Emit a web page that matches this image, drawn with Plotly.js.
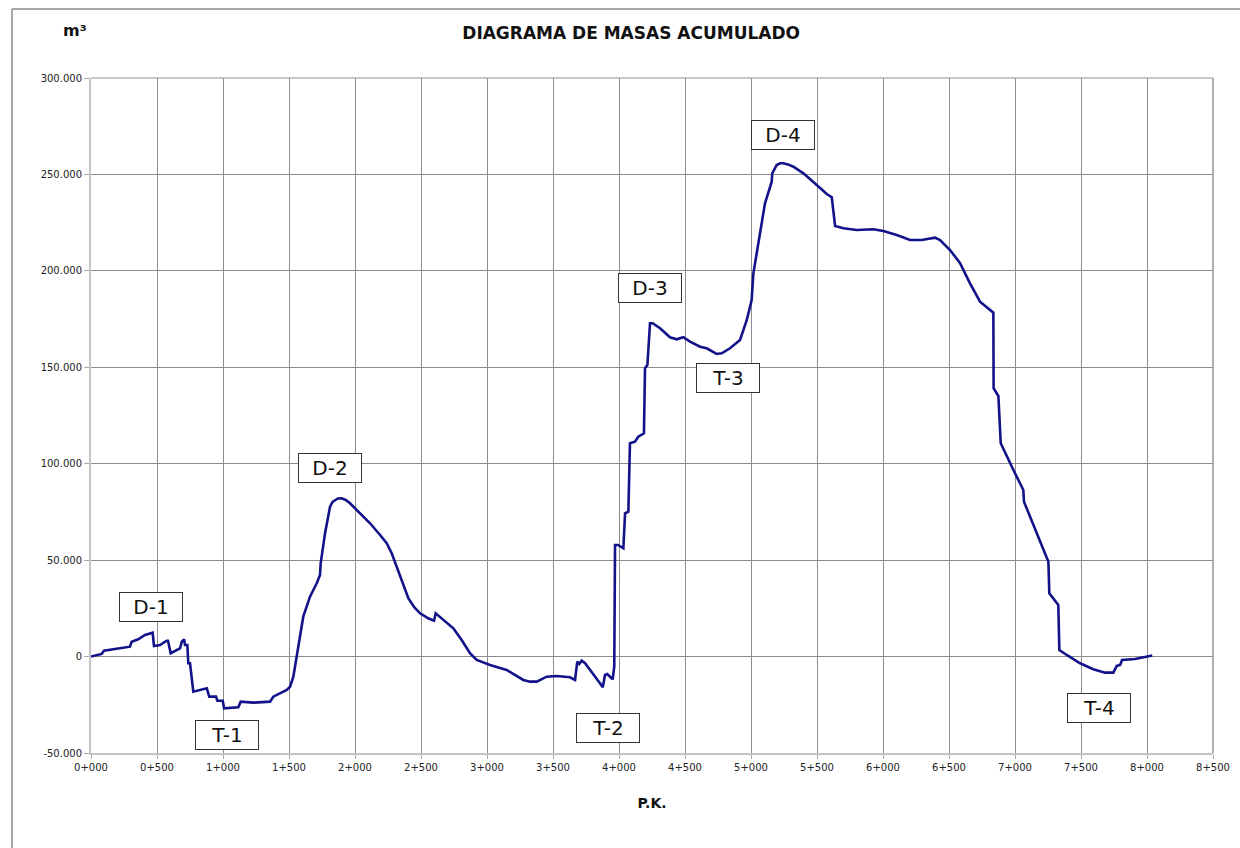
<!DOCTYPE html>
<html>
<head>
<meta charset="utf-8">
<script src="https://cdn.plot.ly/plotly-3.0.1.min.js"></script>
<style>
html,body{margin:0;padding:0;background:#fff;}
#chart{width:1240px;height:848px;}
</style>
</head>
<body>
<div id="chart"></div>
<script>
// Station (m) along the alignment
var stations = [0,81,98,295,308,358,409,467,477,523,573,583,604,649,674,688,705,712,730,737,750,775,877,896,947,957,998,1008,1116,1134,1230,1356,1381,1483,1508,1533,1559,1608,1659,1710,1735,1740,1773,1811,1830,1849,1870,1899,1930,1962,2038,2114,2190,2240,2278,2341,2404,2450,2493,2555,2599,2611,2669,2745,2808,2871,2922,3023,3149,3275,3326,3377,3452,3528,3629,3667,3684,3699,3717,3743,3856,3877,3894,3911,3952,3964,3970,3993,4033,4046,4071,4083,4121,4146,4189,4197,4215,4235,4255,4311,4386,4437,4487,4538,4614,4664,4740,4778,4841,4917,4968,5005,5018,5055,5106,5157,5161,5195,5220,5245,5280,5321,5397,5498,5574,5612,5637,5700,5801,5927,6003,6104,6205,6293,6394,6432,6508,6584,6659,6735,6836,6838,6874,6892,6924,6988,7063,7068,7253,7260,7328,7336,7392,7493,7593,7682,7745,7771,7796,7811,7909,8023,8040];
// Accumulated volume (m3)
var volumes = [0,1350,3060,5130,7730,8970,11200,12390,5500,6010,8240,8240,1710,3060,4200,7730,8970,6010,6010,-3460,-3460,-18200,-16440,-20790,-20790,-22870,-22870,-26810,-26290,-23380,-23900,-23380,-20790,-17320,-15610,-10420,0,20690,31060,38010,42310,48380,63930,77720,80200,81200,82000,82080,81200,79490,74300,69120,63050,58750,53560,41430,30230,25500,22450,19860,18610,22450,18980,14670,8610,1710,-1760,-4360,-6950,-12130,-13010,-13010,-10420,-10060,-10730,-12130,-2640,-3840,-2130,-3470,-13840,-15920,-9540,-9020,-11770,-5240,57870,57870,56150,74300,75130,110600,111430,114020,115780,149480,151200,172820,172820,170230,165560,164520,165560,163280,160680,159850,156900,157260,159850,164160,174530,184900,198740,214300,235040,246240,250590,254900,255800,255780,255200,254020,250590,244530,239860,238150,223270,222070,221190,221550,220670,218600,216000,216000,217200,216000,210820,203930,193550,184020,178320,139110,135120,110600,106240,96750,86380,80310,49210,32820,26760,3420,830,-3470,-6590,-8350,-8350,-4870,-4360,-1760,-1240,50,600];

// Tick labels
var xTickVals = [0,500,1000,1500,2000,2500,3000,3500,4000,4500,5000,5500,6000,6500,7000,7500,8000,8500];
var xTickText = ["0+000","0+500","1+000","1+500","2+000","2+500","3+000","3+500","4+000","4+500","5+000","5+500","6+000","6+500","7+000","7+500","8+000","8+500"];
var yTickVals = [-50000,0,50000,100000,150000,200000,250000,300000];
var yTickText = ["-50.000","0","50.000","100.000","150.000","200.000","250.000","300.000"];

// Zone labels (cut "D" / fill "T")
var zoneNames = ["D-1","T-1","D-2","T-2","D-3","T-3","D-4","T-4"];
var zoneStations = [455,1030,1811,3917,4235,4826,5242,7636];
var zoneVolumes = [25670,-40650,97800,-37000,191100,144500,270400,-26650];

var annotations = zoneNames.map(function(n,i){
  return {x:zoneStations[i], y:zoneVolumes[i], xref:'x', yref:'y', text:n, showarrow:false,
    font:{family:'DejaVu Sans, Verdana, sans-serif', size:20, color:'#111'},
    bgcolor:'#ffffff', bordercolor:'#333333', borderwidth:1, borderpad:2,
    width:58, height:24, align:'center', valign:'middle'};
});
annotations.push({xref:'paper', yref:'paper', x:-0.0143, y:1.071, text:'<b>m³</b>', showarrow:false,
  font:{family:'DejaVu Sans, Verdana, sans-serif', size:16, color:'#111'}, xanchor:'center', yanchor:'middle'});

var trace = {x:stations, y:volumes, type:'scatter', mode:'lines',
  line:{color:'#12128a', width:2.6}, hoverinfo:'x+y', showlegend:false};

var layout = {
  width:1240, height:848,
  margin:{l:91, r:27, t:78, b:95},
  paper_bgcolor:'#ffffff', plot_bgcolor:'#ffffff',
  font:{family:'DejaVu Sans, Verdana, sans-serif', color:'#222'},
  title:{text:'<b>DIAGRAMA DE MASAS ACUMULADO</b>', xref:'container', yref:'container', x:0.509, y:0.961,
    xanchor:'center', yanchor:'middle', font:{family:'DejaVu Sans, Verdana, sans-serif', size:17, color:'#111'}},
  xaxis:{range:[0,8500], tickmode:'array', tickvals:xTickVals, ticktext:xTickText,
    showgrid:true, gridcolor:'#8c8c8c', gridwidth:1, zeroline:false,
    showline:true, linecolor:'#c4c4c4', linewidth:2, mirror:false,
    ticks:'outside', ticklen:4, tickcolor:'#aaaaaa',
    tickfont:{family:'DejaVu Sans, Verdana, sans-serif', size:10, color:'#222'},
    title:{text:'<b>P.K.</b>', standoff:26, font:{family:'DejaVu Sans, Verdana, sans-serif', size:14, color:'#111'}},
    fixedrange:true},
  yaxis:{range:[-50000,300000], tickmode:'array', tickvals:yTickVals, ticktext:yTickText,
    showgrid:true, gridcolor:'#8c8c8c', gridwidth:1, zeroline:false,
    showline:true, linecolor:'#c4c4c4', linewidth:2,
    ticks:'outside', ticklen:5, tickcolor:'#aaaaaa',
    tickfont:{family:'DejaVu Sans, Verdana, sans-serif', size:10, color:'#222'},
    fixedrange:true},
  annotations:annotations,
  shapes:[
    {type:'line', xref:'paper', yref:'paper', x0:-0.0704, x1:1.03, y0:1.1022, y1:1.1022, line:{color:'#a8a8a8', width:2}},
    {type:'line', xref:'paper', yref:'paper', x0:-0.0704, x1:-0.0704, y0:1.1022, y1:-0.15, line:{color:'#a8a8a8', width:2}},
    {type:'line', xref:'paper', yref:'paper', x0:0, x1:1, y0:1, y1:1, line:{color:'#c8c8c8', width:2}, layer:'below'},
    {type:'line', xref:'paper', yref:'paper', x0:1, x1:1, y0:0, y1:1, line:{color:'#b0b0b0', width:2}, layer:'below'}
  ]
};

Plotly.newPlot('chart', [trace], layout, {displayModeBar:false, staticPlot:true});
</script>
</body>
</html>
